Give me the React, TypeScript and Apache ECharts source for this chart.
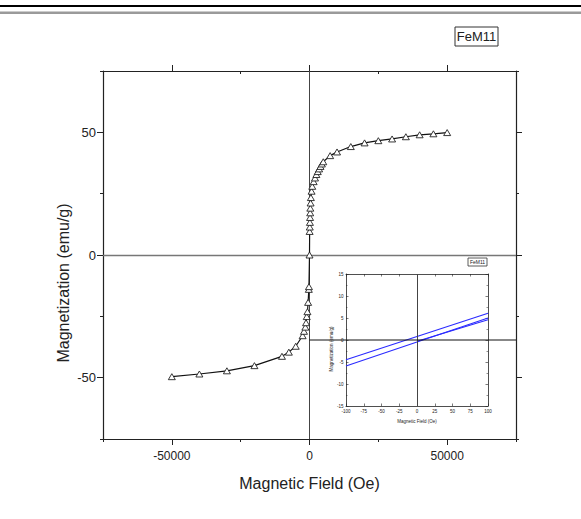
import React, { useEffect, useRef } from 'react';
import * as echarts from 'echarts';

// Main hysteresis curve (Oe, emu/g)
const fieldOe = [
  -50000, -40000, -30000, -20000, -10000, -7500, -5000, -2500, -2000, -1500, -1250, -1000, -750, -500, -250, -200,
  0, 50, 100, 150, 200, 250, 300, 400, 500, 750, 1000, 1500, 2000, 2500, 3000, 3500, 4000, 4500, 5000,
  7500, 10000, 15000, 20000, 25000, 30000, 35000, 40000, 45000, 50000,
];
const magnetization = [
  -49.6, -48.5, -47.2, -45.1, -41.3, -39.6, -37.2, -32.9, -31.1, -29.4, -27.6, -25.1, -23.1, -19.3, -14.0, -12.9,
  0, 9.6, 11.4, 13.3, 15.3, 17.2, 19.1, 21.2, 23.4, 26.0, 28.0, 29.9, 31.4, 32.8, 34.0, 35.1, 36.1, 37.1, 38.0,
  40.5, 42.0, 44.2, 45.7, 46.6, 47.3, 48.2, 49.0, 49.4, 49.9,
];

// Inset low-field loop
const insetUpperField = [100, -100];
const insetUpperM = [6.1, -4.5];
const insetLowerField = [-100, 100];
const insetLowerM = [-5.9, 5.0];
const insetInitialField = [0, 100];
const insetInitialM = [-0.3, 4.6];

// Tick positions
const mainXMajor = [-50000, 0, 50000];
const mainXMinor = [-75000, -25000, 25000, 75000];
const mainYMajor = [-50, 0, 50];
const mainYMinor = [-75, -25, 25, 75];

const sampleName = 'FeM11';
const xTitle = 'Magnetic Field (Oe)';
const yTitle = 'Magnetization (emu/g)';

const FONT = '"Liberation Sans", Arial, Helvetica, sans-serif';
const INK = '#222';
const plain = (v: number) => String(v);

export default function App() {
  const ref = useRef<HTMLDivElement>(null);

  useEffect(() => {
    document.body.style.margin = '0';
    const chart = echarts.init(ref.current!, null, { renderer: 'svg' });

    const mainX = { min: -75000, max: 75000, interval: 25000 };
    const mainY = { min: -75, max: 75, interval: 25 };
    const insetX = { min: -100, max: 100, interval: 25 };
    const insetY = { min: -15, max: 15, interval: 5 };

    const line = (show: boolean, w = 1.2) => ({ show, onZero: false, lineStyle: { color: INK, width: w } });
    const noSplit = { show: false };

    const xAxis: any[] = [
      {
        gridIndex: 0, type: 'value', ...mainX, position: 'bottom',
        axisLine: line(true),
        axisTick: { show: true, customValues: mainXMajor, length: 6, lineStyle: { color: INK } },
        axisLabel: { customValues: mainXMajor, formatter: plain, margin: 11, fontSize: 12, color: INK, fontFamily: FONT },
        splitLine: noSplit,
        name: xTitle, nameLocation: 'middle', nameGap: 36,
        nameTextStyle: { fontSize: 16, color: INK, fontFamily: FONT },
      },
      {
        gridIndex: 0, type: 'value', ...mainX, position: 'bottom',
        axisLine: line(false),
        axisTick: { show: true, customValues: mainXMinor, length: 3, lineStyle: { color: INK } },
        axisLabel: { show: false }, splitLine: noSplit,
      },
      {
        gridIndex: 0, type: 'value', ...mainX, position: 'top',
        axisLine: line(true),
        axisTick: { show: true, customValues: mainXMajor, length: 6, lineStyle: { color: INK } },
        axisLabel: { show: false }, splitLine: noSplit,
      },
      {
        gridIndex: 0, type: 'value', ...mainX, position: 'top',
        axisLine: line(false),
        axisTick: { show: true, inside: true, customValues: mainXMinor, length: 3, lineStyle: { color: INK } },
        axisLabel: { show: false }, splitLine: noSplit,
      },
      {
        gridIndex: 1, type: 'value', ...insetX, position: 'bottom',
        axisLine: line(true, 0.8),
        axisTick: { show: true, inside: true, length: 2.5, lineStyle: { color: INK, width: 0.6 } },
        axisLabel: { formatter: plain, margin: 3, fontSize: 4.5, color: INK, fontFamily: FONT },
        splitLine: noSplit,
        name: xTitle, nameLocation: 'middle', nameGap: 13,
        nameTextStyle: { fontSize: 4.5, color: INK, fontFamily: FONT },
      },
      {
        gridIndex: 1, type: 'value', ...insetX, position: 'top',
        axisLine: line(true, 0.8),
        axisTick: { show: true, inside: true, length: 2.5, lineStyle: { color: INK, width: 0.6 } },
        axisLabel: { show: false }, splitLine: noSplit,
      },
    ];

    const yAxis: any[] = [
      {
        gridIndex: 0, type: 'value', ...mainY, position: 'left',
        axisLine: line(true),
        axisTick: { show: true, customValues: mainYMajor, length: 6, lineStyle: { color: INK } },
        axisLabel: { customValues: mainYMajor, formatter: plain, margin: 7, fontSize: 13, color: INK, fontFamily: FONT },
        splitLine: noSplit,
      },
      {
        gridIndex: 0, type: 'value', ...mainY, position: 'left',
        axisLine: line(false),
        axisTick: { show: true, customValues: mainYMinor, length: 3, lineStyle: { color: INK } },
        axisLabel: { show: false }, splitLine: noSplit,
      },
      {
        gridIndex: 0, type: 'value', ...mainY, position: 'right',
        axisLine: line(true),
        axisTick: { show: true, customValues: mainYMajor, length: 6, lineStyle: { color: INK } },
        axisLabel: { show: false }, splitLine: noSplit,
      },
      {
        gridIndex: 0, type: 'value', ...mainY, position: 'right',
        axisLine: line(false),
        axisTick: { show: true, customValues: mainYMinor, length: 3, lineStyle: { color: INK } },
        axisLabel: { show: false }, splitLine: noSplit,
      },
      {
        gridIndex: 1, type: 'value', ...insetY, position: 'left',
        axisLine: line(true, 0.8),
        axisTick: { show: true, inside: true, length: 2.5, lineStyle: { color: INK, width: 0.6 } },
        minorTick: { show: true, splitNumber: 2, length: 1.5, lineStyle: { color: INK, width: 0.5 } },
        axisLabel: { formatter: plain, margin: 2.5, fontSize: 4.5, color: INK, fontFamily: FONT },
        splitLine: noSplit,
      },
      {
        gridIndex: 1, type: 'value', ...insetY, position: 'right',
        axisLine: line(true, 0.8),
        axisTick: { show: true, inside: true, length: 2.5, lineStyle: { color: INK, width: 0.6 } },
        minorTick: { show: true, splitNumber: 2, length: 1.5, lineStyle: { color: INK, width: 0.5 } },
        axisLabel: { show: false }, splitLine: noSplit,
      },
    ];

    const insetLine = (fx: number[], my: number[], extra: any = {}) => ({
      type: 'line', xAxisIndex: 4, yAxisIndex: 4,
      data: fx.map((f, i) => [f, my[i]]),
      symbol: 'none', silent: true,
      lineStyle: { color: '#2a2aff', width: 1.1 },
      z: 4,
      ...extra,
    });

    const option: any = {
      animation: false,
      backgroundColor: '#fff',
      grid: [
        { left: 103, top: 71, width: 413, height: 368 },
        { left: 346, top: 274, width: 142, height: 132 },
      ],
      xAxis,
      yAxis,
      series: [
        {
          type: 'line', xAxisIndex: 0, yAxisIndex: 0,
          data: fieldOe.map((f, i) => [f, magnetization[i]]),
          symbol: 'triangle', symbolSize: [7, 6],
          itemStyle: { color: '#fff', borderColor: '#222', borderWidth: 0.9 },
          lineStyle: { color: '#111', width: 1.2 },
          z: 5,
          markLine: {
            silent: true, symbol: ['none', 'none'], label: { show: false },
            data: [
              { xAxis: 0, lineStyle: { color: '#444', width: 1, type: 'solid' } },
              { yAxis: 0, lineStyle: { color: '#777', width: 1.3, type: 'solid' } },
            ],
          },
        },
        insetLine(insetUpperField, insetUpperM, {
          markLine: {
            silent: true, symbol: ['none', 'none'], label: { show: false },
            data: [{ xAxis: 0, lineStyle: { color: '#444', width: 1, type: 'solid' } }],
          },
        }),
        insetLine(insetLowerField, insetLowerM),
        insetLine(insetInitialField, insetInitialM),
      ],
    };

    chart.setOption(option);

    const x0 = chart.convertToPixel({ xAxisIndex: 0 }, 0) as number;
    const xR = chart.convertToPixel({ xAxisIndex: 0 }, mainX.max) as number;
    const yI0 = chart.convertToPixel({ yAxisIndex: 4 }, 0) as number;
    const insetLeft = chart.convertToPixel({ xAxisIndex: 4 }, insetX.min) as number;
    const insetRight = chart.convertToPixel({ xAxisIndex: 4 }, insetX.max) as number;
    const insetTop = chart.convertToPixel({ yAxisIndex: 4 }, insetY.max) as number;
    const insetBottom = chart.convertToPixel({ yAxisIndex: 4 }, insetY.min) as number;

    chart.setOption({
      graphic: [
        { type: 'rect', z: 100, shape: { x: 0, y: 5, width: 581, height: 2 }, style: { fill: '#000' } },
        { type: 'rect', z: 100, shape: { x: 0, y: 11.5, width: 581, height: 2.5 }, style: { fill: '#9a9a9a' } },
        {
          type: 'line', z: 100,
          shape: { x1: x0, y1: yI0, x2: xR, y2: yI0 },
          style: { stroke: '#111', lineWidth: 1 },
        },
        {
          type: 'rect', z: 100, shape: { x: 455, y: 27, width: 43, height: 19 },
          style: { fill: '#fff', stroke: '#333', lineWidth: 1 },
        },
        {
          type: 'text', z: 101, x: 476.5, y: 36.5,
          style: { text: sampleName, fill: INK, font: `13px ${FONT}`, align: 'center', verticalAlign: 'middle' },
        },
        {
          type: 'rect', z: 100, shape: { x: insetRight - 20, y: insetTop - 16, width: 19, height: 8 },
          style: { fill: '#fff', stroke: '#333', lineWidth: 0.8 },
        },
        {
          type: 'text', z: 101, x: insetRight - 10.5, y: insetTop - 12,
          style: { text: sampleName, fill: INK, font: `5px ${FONT}`, align: 'center', verticalAlign: 'middle' },
        },
        {
          type: 'text', z: 101, x: 63, y: 283, rotation: Math.PI / 2,
          style: { text: yTitle, fill: INK, font: `16px ${FONT}`, align: 'center', verticalAlign: 'middle' },
        },
        {
          type: 'text', z: 101, x: insetLeft - 15, y: (insetTop + insetBottom) / 2 + 9, rotation: Math.PI / 2,
          style: { text: yTitle, fill: INK, font: `4.5px ${FONT}`, align: 'center', verticalAlign: 'middle' },
        },
      ],
    });

    return () => chart.dispose();
  }, []);

  return (
    <div
      ref={ref}
      style={{ position: 'absolute', left: 0, top: 0, width: 581, height: 519, background: '#fff' }}
    />
  );
}
